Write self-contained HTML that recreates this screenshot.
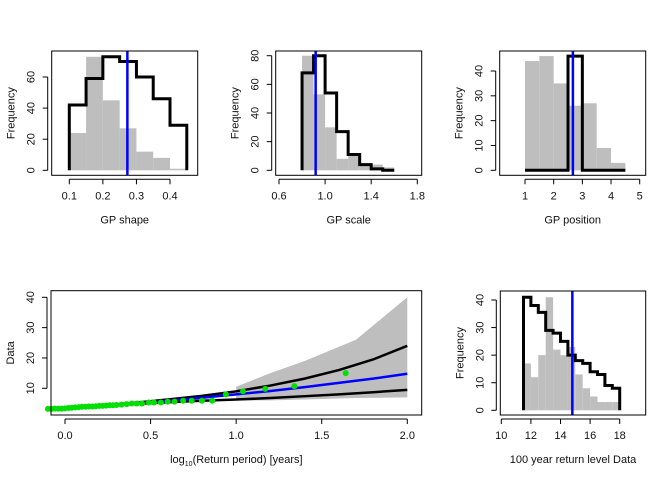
<!DOCTYPE html>
<html><head><meta charset="utf-8"><style>
body{margin:0;background:#fff}
svg{display:block;font-family:"Liberation Sans",sans-serif;font-size:11px}
</style></head><body>
<svg id="s" width="672" height="480"></svg>
<script>
// ---- data ----
const shapeBreaks=[0.10,0.15,0.20,0.25,0.30,0.35,0.40,0.45];
const shapeGray=[24,73,45,27,12,8,1];
const shapeBlack=[42,59,73,70,60,46,29];
const shapeMean=0.273;
const scaleBreaks=[0.8,0.9,1.0,1.1,1.2,1.3,1.4,1.5,1.6];
const scaleGray=[80,53,30,8,10,3,4,2];
const scaleBlack=[68,80,54,27,11,4,1,0];
const scaleMean=0.918;
const posBreaks=[1,1.5,2,2.5,3,3.5,4,4.5];
const posGray=[44,46,35,26,27,9,3];
const posBlack=[0,0,0,46,0,0,0];
const posMean=2.67;
const rlBreaks=[11.5,12,12.5,13,13.5,14,14.5,15,15.5,16,16.5,17,17.5,18];
const rlGray=[17,12,20,41,22,20,23,13,8,5,3,3,3];
const rlBlack=[41,38,35.5,29,28,25,20,18,17,14,13,9,8];
const rlMean=14.8;
const shapeXTicks=[0.1,0.2,0.3,0.4], shapeYTicks=[0,20,40,60];
const scaleXTicks=[0.6,1.0,1.4,1.8], scaleYTicks=[0,20,40,60,80];
const posXTicks=[1,2,3,4,5], posYTicks=[0,10,20,30,40];
const rlXTicks=[10,12,14,16,18], rlYTicks=[0,10,20,30,40];
const rpXTicks=[0.0,0.5,1.0,1.5,2.0], rpYTicks=[10,20,30,40];
const rpCurveX=[0.0,0.2,0.4,0.6,0.8,1.0,1.2,1.4,1.6,1.8,2.0];
const rpUpper=[3.3,4.3,5.2,6.3,7.5,9.0,10.9,13.2,16.0,19.5,24.0];
const rpMid=[3.3,4.2,5.0,5.9,6.9,8.0,9.1,10.4,11.8,13.2,14.8];
const rpLower=[3.3,4.1,4.8,5.4,5.9,6.3,6.8,7.4,8.0,8.7,9.5];
const bandX=[1.0,1.2,1.4,1.7,2.0];
const bandHi=[10.5,15,19,26,40];
const bandLo=[6,6,6.3,6.8,7];
const ptsX=[-0.1,-0.08,-0.06,-0.04,-0.02,0.0,0.02,0.04,0.06,0.08,0.1,0.12,0.14,0.16,0.18,0.2,0.22,0.24,0.26,0.28,0.3,0.33,0.36,0.39,0.42,0.45,0.49,0.52,0.56,0.6,0.64,0.69,0.74,0.8,0.86,0.94,1.04,1.17,1.34,1.64];
const ptsY=[3.2,3.2,3.3,3.3,3.3,3.4,3.5,3.6,3.7,3.8,3.9,3.9,4.0,4.0,4.1,4.2,4.2,4.3,4.4,4.4,4.5,4.6,4.8,5.0,5.0,5.0,5.3,5.3,5.3,5.6,5.6,5.9,5.9,5.9,5.9,8.0,9.0,9.8,10.7,15.0];

const NS='http://www.w3.org/2000/svg', S=document.getElementById('s');
function mk(t,a,txt){const e=document.createElementNS(NS,t);for(const k in a)e.setAttribute(k,a[k]);if(txt!==undefined)e.textContent=txt;S.appendChild(e);return e;}

function frame(name,box,sx,sy,xt,yt,xlab,ylab){
  const b=mk('rect',{x:box[0],y:box[1],width:box[2]-box[0],height:box[3]-box[1],fill:'none',stroke:'#000','stroke-width':1});
  
  
  const by=box[3], bx=box[0];
  const xl=mk('line',{x1:sx(xt[0]),x2:sx(xt[xt.length-1]),y1:by+4,y2:by+4,stroke:'#000'});
  
  
  xt.forEach(v=>{mk('line',{x1:sx(v),x2:sx(v),y1:by+4,y2:by+9,stroke:'#000'});
    const t=mk('text',{x:sx(v),y:by+24,'text-anchor':'middle',fill:'#111'},String(v%1===0&&xt.some(q=>q%1)?v.toFixed(1):(xt.some(q=>q%1)?v.toFixed(1):v)));
    
    });
  const yl=mk('line',{x1:bx-4,x2:bx-4,y1:sy(yt[0]),y2:sy(yt[yt.length-1]),stroke:'#000'});
  
  
  yt.forEach(v=>{mk('line',{x1:bx-4,x2:bx-9,y1:sy(v),y2:sy(v),stroke:'#000'});
    const tx=bx-17,ty=sy(v);
    const t=mk('text',{x:tx,y:ty,'text-anchor':'middle',transform:`rotate(-90 ${tx} ${ty})`,fill:'#111'},String(v));
    
    });
  const xa=mk('text',{x:(box[0]+box[2])/2,y:by+48,'text-anchor':'middle',fill:'#111'});
  xa.innerHTML=xlab;
  
  
  const yx=bx-41,yy=(box[1]+box[3])/2;
  const ya=mk('text',{x:yx+4,y:yy,'text-anchor':'middle',transform:`rotate(-90 ${yx+4} ${yy})`,fill:'#111'},ylab);
  
  
}
function lin(d0,d1,p0,p1){return v=>p0+(v-d0)*(p1-p0)/(d1-d0);}

function hist(name,box,sx,sy,br,gray,black,mean,xt,yt,xlab){
  gray.forEach((c,i)=>{const r=mk('rect',{x:sx(br[i]),y:sy(c),width:sx(br[i+1])-sx(br[i]),height:sy(0)-sy(c),fill:'#bebebe'});
    
    });
  let d=`M${sx(br[0])},${sy(0)}`;
  black.forEach((c,i)=>{d+=` L${sx(br[i])},${sy(c)} L${sx(br[i+1])},${sy(c)}`;});
  d+=` L${sx(br[br.length-1])},${sy(0)}`;
  const p=mk('path',{d:d,fill:'none',stroke:'#000','stroke-width':3});
  
  
  const m=mk('line',{x1:sx(mean),x2:sx(mean),y1:box[1],y2:box[3],stroke:'#0000ff','stroke-width':2.5});
  
  
  frame(name,box,sx,sy,xt,yt,xlab,'Frequency');
}

hist('gp-shape',[51.7,51,197.7,175.3],lin(0.1,0.4,69.3,170),lin(0,60,170.3,77),shapeBreaks,shapeGray,shapeBlack,shapeMean,shapeXTicks,shapeYTicks,'GP shape');
hist('gp-scale',[275.7,51,421.7,175.3],lin(0.6,1.8,279,417.3),lin(0,80,170.3,55.7),scaleBreaks,scaleGray,scaleBlack,scaleMean,scaleXTicks,scaleYTicks,'GP scale');
hist('gp-position',[499.7,51,645.7,175.3],lin(1,5,525,639.7),lin(0,40,170.3,71),posBreaks,posGray,posBlack,posMean,posXTicks,posYTicks,'GP position');
hist('return-level',[500.3,291,645.7,415],lin(10,18,501.3,619.7),lin(0,40,410.3,300),rlBreaks,rlGray,rlBlack,rlMean,rlXTicks,rlYTicks,'100 year return level Data');

// return period plot
(function(){
  const box=[51,290.7,421.7,415], sx=lin(0,2,65,407.3), sy=lin(10,40,388.3,297.3);
  let d='';bandX.forEach((x,i)=>{d+=(i?' L':'M')+sx(x)+','+sy(bandHi[i]);});
  for(let i=bandX.length-1;i>=0;i--)d+=' L'+sx(bandX[i])+','+sy(bandLo[i]);
  const b=mk('path',{d:d+'Z',fill:'#bebebe'});
  
  
  function line(ys,col,nm){let q='';rpCurveX.forEach((x,i)=>{q+=(i?' L':'M')+sx(x)+','+sy(ys[i]);});
    const l=mk('path',{d:q,fill:'none',stroke:col,'stroke-width':2.5});
    
    }
  line(rpUpper,'#000','upper-bound-line');line(rpLower,'#000','lower-bound-line');line(rpMid,'#0000ff','fitted-return-level-line');
  ptsX.forEach((x,i)=>{const c=mk('circle',{cx:sx(x),cy:sy(ptsY[i]),r:3,fill:'#00e000'});
    
    });
  frame('return-period',box,sx,sy,rpXTicks,rpYTicks,'log<tspan font-size="7" dy="3">10</tspan><tspan dy="-3">(Return period) [years]</tspan>','Data');
})();
</script>
</body></html>
